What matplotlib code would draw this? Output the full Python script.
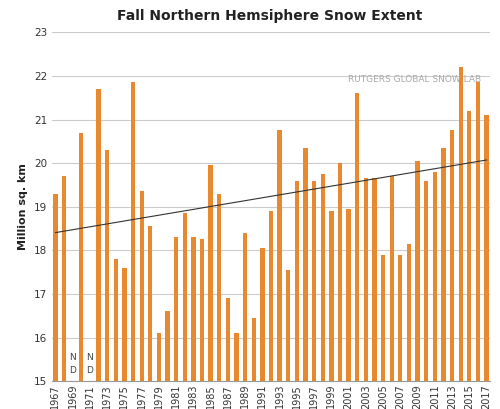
import matplotlib
matplotlib.use("Agg")
import matplotlib.pyplot as plt
import numpy as np

years = list(range(1967, 2018))
values = [19.3, 19.7, np.nan, 20.7, np.nan, 21.7, 20.3, 17.8, 17.6, 21.85,
          19.35, 18.55, 16.1, 16.6, 18.3, 18.85, 18.3, 18.25, 19.95, 19.3,
          16.9, 16.1, 18.4, 16.45, 18.05, 18.9, 20.75, 17.55, 19.6, 20.35,
          19.6, 19.75, 18.9, 20.0, 18.95, 21.6, 19.65, 19.65, 17.9, 19.7,
          17.9, 18.15, 20.05, 19.6, 19.8, 20.35, 20.75, 22.2, 21.2, 21.85, 21.1]
nd_years = [1969, 1971]

fig = plt.figure(figsize=(5.0, 4.09), dpi=100)
ax = fig.add_axes([0.104, 0.068, 0.876, 0.853])
x = np.array(years)
v = np.array(values)
ax.bar(x, v - 15, bottom=15, width=0.5, color="#E8892F", zorder=2)
m = ~np.isnan(v)
k, b = np.polyfit(x[m], v[m], 1)
ax.plot([1967, 2017], [k*1967+b, k*2017+b], color="#333333", lw=0.8, zorder=3)
for y in nd_years:
    ax.text(y, 15.55, "N", ha="center", va="center", fontsize=6.5, color="#444")
    ax.text(y, 15.25, "D", ha="center", va="center", fontsize=6.5, color="#444")
ax.set_xlim(1966.6, 2017.4)
ax.set_ylim(15, 23)
ax.set_yticks(range(15, 24))
ax.set_xticks(years[::2])
ax.set_xticklabels([str(y) for y in years[::2]], rotation=90, fontsize=7, color="#333")
ax.tick_params(axis="y", labelsize=7.5, length=0, colors="#333")
ax.tick_params(axis="x", length=0, pad=2)
ax.grid(axis="y", color="#cccccc", lw=0.8, zorder=0)
for s in ["top", "right", "left"]:
    ax.spines[s].set_visible(False)
ax.spines["bottom"].set_color("#999")
ax.set_ylabel("Million sq. km", fontsize=8, fontweight="bold", color="#222")
ax.text(0.98, 0.865, "RUTGERS GLOBAL SNOW LAB", transform=ax.transAxes,
        ha="right", va="center", fontsize=6.5, color="#aaaaaa")
fig.text(0.54, 0.96, "Fall Northern Hemsiphere Snow Extent", ha="center",
         va="center", fontsize=10, fontweight="bold", color="#222")
fig.savefig("out.png", dpi=100)
